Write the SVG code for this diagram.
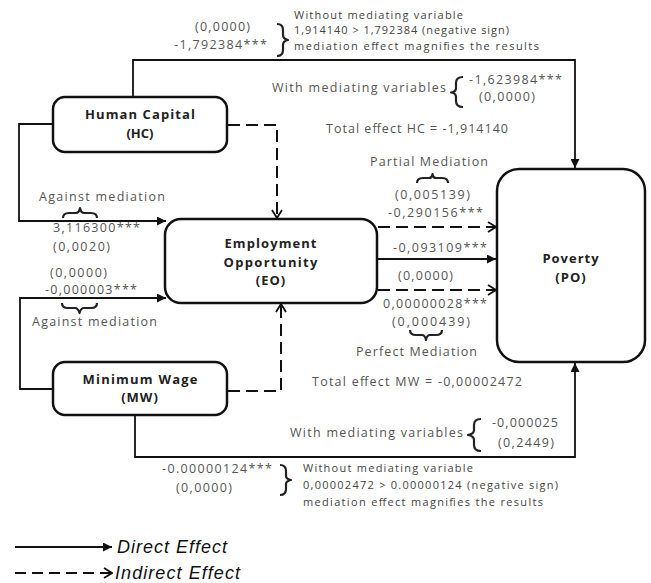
<svg xmlns="http://www.w3.org/2000/svg" width="651" height="583" viewBox="0 0 651 583">
<style>
.bg{fill:#ffffff}
.box{fill:#ffffff;stroke:#111;stroke-width:2.5}
.nt{font-family:"Open Sans","DejaVu Sans",sans-serif;font-weight:bold;font-size:13px;fill:#222;text-anchor:middle}
.lbl{font-family:"Open Sans","DejaVu Sans",sans-serif;font-size:12.5px;fill:#555}
.note{font-family:"Open Sans","DejaVu Sans",sans-serif;font-size:11px;fill:#444}
.ln{fill:none;stroke:#111;stroke-width:1.8}
.dl{fill:none;stroke:#111;stroke-width:2;stroke-dasharray:12 6}
.br{fill:none;stroke:#222;stroke-width:2.2;stroke-linejoin:round}
.leg{font-family:"Liberation Sans",Arial,sans-serif;font-style:italic;font-size:18px;fill:#111}
</style>
<defs>
<marker id="af" viewBox="0 0 10 10" refX="10" refY="5" markerWidth="10" markerHeight="9" markerUnits="userSpaceOnUse" orient="auto">
<path d="M0,0 L10,5 L0,10 z" fill="#111"/>
</marker>
<marker id="ao" viewBox="0 0 10 12" refX="9" refY="6" markerWidth="10" markerHeight="12" markerUnits="userSpaceOnUse" orient="auto">
<path d="M1,1 L9,6 L1,11" fill="none" stroke="#111" stroke-width="1.8" stroke-dasharray="none"/>
</marker>
</defs>
<rect class="bg" x="0" y="0" width="651" height="583"/>

<g id="connectors">
<path class="ln" d="M133,97 V60 H575 V168" marker-end="url(#af)"/>
<path class="ln" d="M135,415 V457 H575 V363" marker-end="url(#af)"/>
<path class="ln" d="M53,124 H19 V221 H166" marker-end="url(#af)"/>
<path class="ln" d="M53,389 H20 V298 H166" marker-end="url(#af)"/>
<path class="dl" d="M228,125 H277 V218" marker-end="url(#ao)"/>
<path class="dl" d="M228,391 H281 V304" marker-end="url(#ao)"/>
<path class="dl" d="M378,227 H496" marker-end="url(#ao)"/>
<path class="ln" d="M378,259 H496" marker-end="url(#af)"/>
<path class="dl" d="M378,290 H496" marker-end="url(#ao)"/>
</g>

<g id="hc">
<rect class="box" x="53" y="97" width="174" height="55" rx="12"/>
<text class="nt" x="140" y="119" textLength="110">Human Capital</text>
<text class="nt" x="140" y="138">(HC)</text>
</g>
<g id="eo">
<rect class="box" x="165" y="219" width="212" height="84" rx="16"/>
<text class="nt" x="271" y="248" textLength="93" letter-spacing="1">Employment</text>
<text class="nt" x="271" y="267" textLength="95" letter-spacing="1">Opportunity</text>
<text class="nt" x="271" y="285" letter-spacing="1">(EO)</text>
</g>
<g id="mw">
<rect class="box" x="53" y="362" width="174" height="53" rx="12"/>
<text class="nt" x="140" y="384" textLength="115">Minimum Wage</text>
<text class="nt" x="140" y="402" letter-spacing="1">(MW)</text>
</g>
<g id="po">
<rect class="box" x="497" y="169" width="148" height="193" rx="22"/>
<text class="nt" x="571" y="263" letter-spacing="1">Poverty</text>
<text class="nt" x="571" y="282" letter-spacing="1">(PO)</text>
</g>

<g id="labels">
<text class="lbl" x="195" y="31" textLength="55">(0,0000)</text>
<text class="lbl" x="174" y="49" textLength="93">-1,792384***</text>
<path class="br" d="M277,24 Q283,24 283,30 V35 Q283,39 288,40 Q283,41 283,45 V50 Q283,56 277,56"/>
<text class="note" x="294" y="19" textLength="169">Without mediating variable</text>
<text class="note" x="294" y="34" textLength="215">1,914140 &gt; 1,792384 (negative sign)</text>
<text class="note" x="294" y="50" textLength="245">mediation effect magnifies the results</text>

<text class="lbl" x="272" y="92" textLength="174">With mediating variables</text>
<path class="br" d="M463,77 Q456,77 456,83 V88 Q456,92 451,92.5 Q456,93 456,97 V101 Q456,107 463,107"/>
<text class="lbl" x="469" y="84" textLength="93">-1,623984***</text>
<text class="lbl" x="479" y="101" textLength="56">(0,0000)</text>

<text class="lbl" x="326" y="133" textLength="182">Total effect HC = -1,914140</text>

<text class="lbl" x="370" y="166" textLength="118">Partial Mediation</text>
<path class="br" d="M417,183 Q417,178 423,178 H429 Q432,178 432.5,174 Q433,178 436,178 H442 Q448,178 448,183"/>
<text class="lbl" x="395" y="199" textLength="75">(0,005139)</text>
<text class="lbl" x="388" y="217" textLength="95">-0,290156***</text>
<text class="lbl" x="393" y="252" textLength="94">-0,093109***</text>
<text class="lbl" x="398" y="280" textLength="55">(0,0000)</text>
<text class="lbl" x="383" y="308" textLength="104">0,00000028***</text>
<text class="lbl" x="392" y="326" textLength="78">(0,000439)</text>
<path class="br" d="M410,330 Q410,335 416,335 H422 Q425,335 426,340 Q427,335 430,335 H436 Q442,335 442,330"/>
<text class="lbl" x="356" y="356" textLength="121">Perfect Mediation</text>

<text class="lbl" x="39" y="201" textLength="126">Against mediation</text>
<path class="br" d="M63,218 Q63,213 69,213 H76 Q79,213 80,208 Q81,213 84,213 H91 Q97,213 97,218"/>
<text class="lbl" x="53" y="232" textLength="87">3,116300***</text>
<text class="lbl" x="53" y="251" textLength="57">(0,0020)</text>
<text class="lbl" x="50" y="277" textLength="57">(0,0000)</text>
<text class="lbl" x="45" y="294" textLength="92">-0,000003***</text>
<path class="br" d="M62,303 Q62,308 68,308 H75 Q78,308 79.5,313 Q81,308 84,308 H91 Q97,308 97,303"/>
<text class="lbl" x="32" y="326" textLength="125">Against mediation</text>

<text class="lbl" x="312" y="386" textLength="210">Total effect MW = -0,00002472</text>
<text class="lbl" x="290" y="437" textLength="173">With mediating variables</text>
<path class="br" d="M481,419 Q474,419 474,425 V430 Q474,434 468,435 Q474,436 474,440 V445 Q474,451 481,451"/>
<text class="lbl" x="492" y="427" textLength="66">-0,000025</text>
<text class="lbl" x="498" y="447" textLength="56">(0,2449)</text>

<text class="lbl" x="162" y="473" textLength="110">-0.00000124***</text>
<text class="lbl" x="176" y="492" textLength="56">(0,0000)</text>
<path class="br" d="M280,465 Q286,465 286,471 V476 Q286,479 291,480 Q286,481 286,484 V489 Q286,495 280,495"/>
<text class="note" x="303" y="472" textLength="170">Without mediating variable</text>
<text class="note" x="303" y="489" textLength="255">0,00002472 &gt; 0.00000124 (negative sign)</text>
<text class="note" x="303" y="506" textLength="240">mediation effect magnifies the results</text>
</g>

<g id="legend">
<path class="ln" d="M15,547 H112" marker-end="url(#af)"/>
<text class="leg" x="117" y="553" textLength="110">Direct Effect</text>
<path class="dl" d="M15,573 H112" style="stroke-dasharray:11 6" marker-end="url(#ao)"/>
<text class="leg" x="115" y="579" textLength="125">Indirect Effect</text>
</g>
</svg>
